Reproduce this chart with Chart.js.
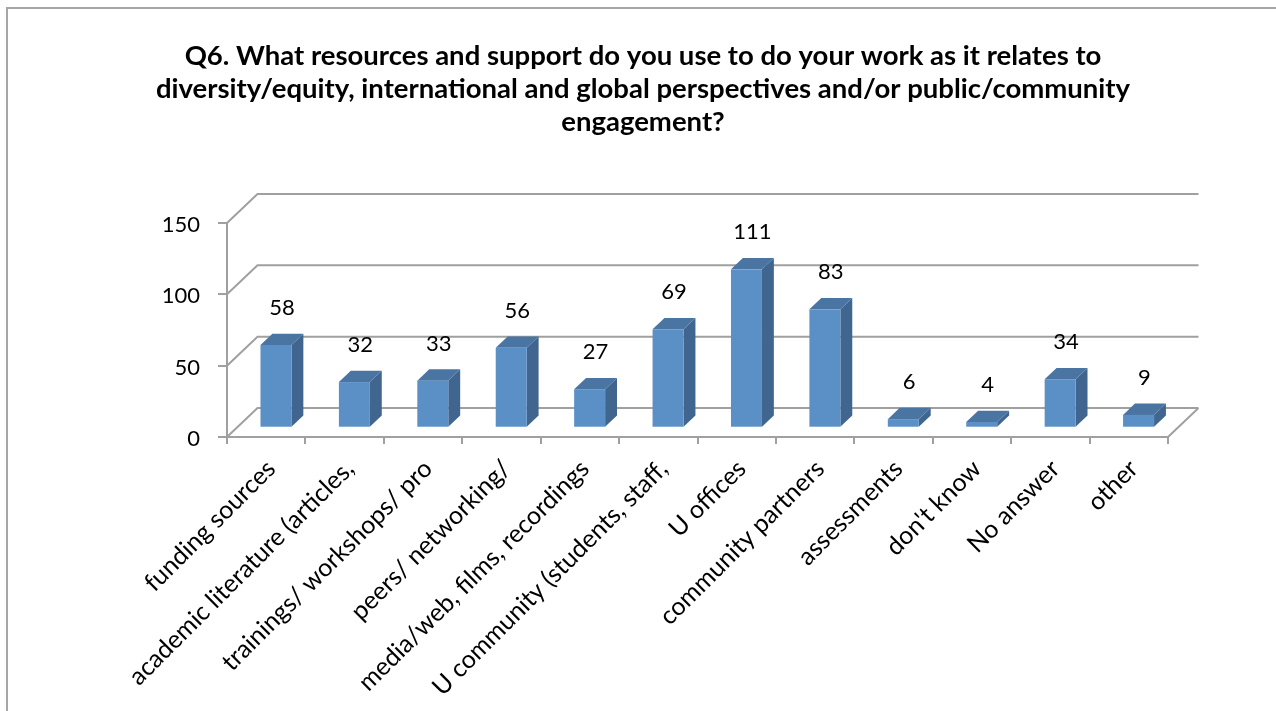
<!DOCTYPE html>
<html>
<head>
<meta charset="utf-8">
<script src="https://cdn.jsdelivr.net/npm/chart.js@4.4.0/dist/chart.umd.min.js"></script>
<style>
  html, body { margin: 0; padding: 0; background: #fff; overflow: hidden; }
</style>
</head>
<body>
<canvas id="myChart" width="1276" height="711"></canvas>
<script>
const titleLines = [
    'Q6. What resources and support do you use to do your work as it relates to',
    'diversity/equity, international and global perspectives and/or public/community',
    'engagement?'
]
const categories = [
    'funding sources',
    'academic literature (articles,',
    'trainings/ workshops/ pro',
    'peers/ networking/',
    'media/web, films, recordings',
    'U community (students, staff,',
    'U offices',
    'community partners',
    'assessments',
    "don't know",
    'No answer',
    'other'
]
const counts = [58, 32, 33, 56, 27, 69, 111, 83, 6, 4, 34, 9]
const yTicks = [0, 50, 100, 150]

const FONT = 'Lato, "Open Sans", sans-serif'
const LINE = '#a0a0a0'
// depth of the 3d box (back wall offset from the front plane)
const DX = 30.5, DY = -29
// bars sit a third of the way back and are ~0.4 of the depth thick
const BAR_POS = 0.32, BAR_DEPTH = 0.39

const box3d = {
    id: 'box3d',
    beforeDraw(chart) {
        const ctx = chart.ctx
        ctx.save()
        ctx.strokeStyle = '#a6a6a6'
        ctx.lineWidth = 2
        ctx.beginPath()
        ctx.moveTo(7, chart.height)
        ctx.lineTo(7, 8)
        ctx.lineTo(chart.width, 8)
        ctx.stroke()
        ctx.restore()
    },
    beforeDatasetsDraw(chart) {
        const ctx = chart.ctx
        const {left, right, bottom} = chart.chartArea
        const y = chart.scales.y
        ctx.save()
        ctx.strokeStyle = LINE
        ctx.lineWidth = 2
        ctx.beginPath()
        yTicks.forEach(v => {
            const py = y.getPixelForValue(v)
            // side wall
            ctx.moveTo(left, py)
            ctx.lineTo(left + DX, py + DY)
            // back wall
            ctx.lineTo(right + DX, py + DY)
        })
        // floor, right edge
        ctx.moveTo(right, bottom)
        ctx.lineTo(right + DX, bottom + DY)
        ctx.stroke()
        ctx.restore()
    },
    afterDatasetsDraw(chart) {
        const ctx = chart.ctx
        const meta = chart.getDatasetMeta(0)
        const sx = DX * BAR_POS, sy = DY * BAR_POS
        const bx = DX * BAR_DEPTH, by = DY * BAR_DEPTH
        ctx.save()
        meta.data.forEach((bar, i) => {
            const {x, y, base, width} = bar.getProps(['x', 'y', 'base', 'width'], true)
            const x0 = x - width / 2 + sx, x1 = x + width / 2 + sx
            const top = y + sy, bot = base + sy
            // side
            ctx.fillStyle = '#40668f'
            ctx.beginPath()
            ctx.moveTo(x1, top)
            ctx.lineTo(x1 + bx, top + by)
            ctx.lineTo(x1 + bx, bot + by)
            ctx.lineTo(x1, bot)
            ctx.closePath()
            ctx.fill()
            // top
            ctx.fillStyle = '#4a74a2'
            ctx.beginPath()
            ctx.moveTo(x0, top)
            ctx.lineTo(x1, top)
            ctx.lineTo(x1 + bx, top + by)
            ctx.lineTo(x0 + bx, top + by)
            ctx.closePath()
            ctx.fill()
            // front
            ctx.fillStyle = '#5b90c6'
            ctx.fillRect(x0, top, x1 - x0, bot - top)

            ctx.fillStyle = '#000'
            ctx.font = '22px ' + FONT
            ctx.textAlign = 'center'
            ctx.textBaseline = 'middle'
            ctx.fillText(String(counts[i]), x + sx + bx / 2, top - 37)
        })
        ctx.restore()
    }
}

new Chart(document.getElementById('myChart'), {
    type: 'bar',
    data: {
        labels: categories,
        datasets: [{
            data: counts,
            yAxisID: 'y',
            backgroundColor: 'rgba(0,0,0,0)',
            borderWidth: 0,
            categoryPercentage: 1,
            barPercentage: 0.395
        }]
    },
    options: {
        responsive: false,
        animation: false,
        events: [],
        layout: {padding: {left: 10, right: 0, top: 0, bottom: 0}},
        plugins: {
            legend: {display: false},
            tooltip: {enabled: false},
            title: {
                display: true,
                text: titleLines,
                color: '#000',
                font: {family: FONT, size: 27.5, weight: 'bold', lineHeight: 1.2},
                padding: {top: 40, bottom: 84}
            }
        },
        scales: {
            x: {
                offset: true,
                grid: {display: true, drawOnChartArea: false, offset: true, tickLength: 7, color: LINE, lineWidth: 2},
                border: {display: true, color: LINE, width: 2},
                ticks: {
                    autoSkip: false, minRotation: 45, maxRotation: 45, padding: 10, labelOffset: 5,
                    color: '#000', font: {family: FONT, size: 25}
                },
                afterFit(s) { s.height = 274 }
            },
            y: {
                min: 0, max: 150,
                grid: {display: true, drawOnChartArea: false, tickLength: 9, color: LINE, lineWidth: 2},
                border: {display: true, color: LINE, width: 2},
                ticks: {stepSize: 50, padding: 18, labelOffset: 2, color: '#000', font: {family: FONT, size: 22}},
                afterFit(s) { s.width = 217 }
            },
            yRight: {
                position: 'right',
                grid: {display: false},
                border: {display: false},
                ticks: {display: false},
                afterFit(s) { s.width = 108 }
            }
        }
    },
    plugins: [box3d]
})
</script>
</body>
</html>
